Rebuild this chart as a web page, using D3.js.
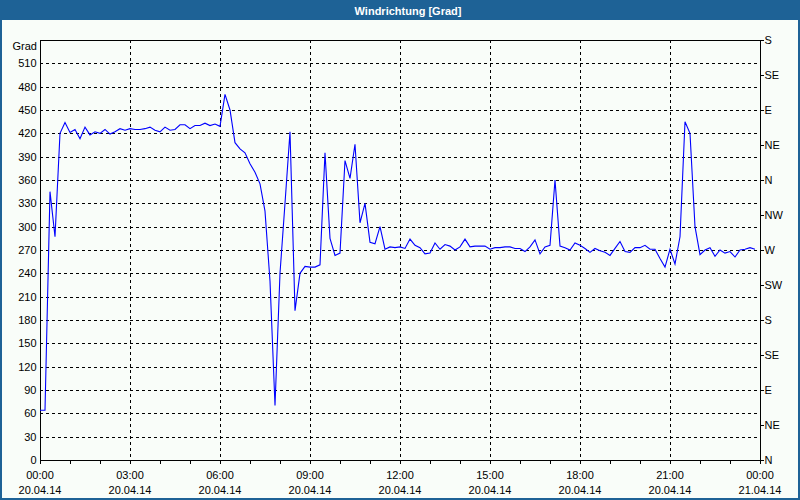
<!DOCTYPE html>
<html>
<head>
<meta charset="utf-8">
<script src="https://cdn.jsdelivr.net/npm/d3@7"></script>
<style>
  body { margin: 0; background: #ffffff; }
  text { font-family: "Liberation Sans", Arial, sans-serif; }
</style>
</head>
<body>
<svg width="800" height="500"></svg>
<script>
// wind direction, one reading every 10 minutes from 20.04.14 00:00
var startTime = new Date(2014, 3, 20, 0, 0);
var stepMinutes = 10;
var direction = [
  64, 64, 345, 287, 420, 434, 421, 425, 413, 428, 418, 422, 420, 425, 419, 422,
  426, 424, 426, 425, 425, 426, 428, 424, 422, 428, 424, 425, 431, 431, 426, 430,
  430, 433, 430, 432, 429, 470, 450, 408, 400, 395, 381, 370, 355, 320, 230, 70,
  240, 330, 422, 192, 240, 249, 248, 248, 251, 395, 285, 263, 266, 385, 362, 406,
  305, 330, 280, 278, 300, 271, 274, 273, 274, 272, 284, 276, 273, 265, 266, 279,
  271, 277, 275, 270, 274, 284, 274, 275, 275, 275, 271, 273, 273, 274, 274, 272,
  272, 268, 274, 283, 265, 274, 276, 360, 275, 273, 270, 279, 276, 272, 267, 272,
  269, 267, 263, 272, 281, 268, 267, 273, 273, 276, 271, 271, 259, 248, 271, 252,
  287, 435, 420, 300, 264, 270, 273, 262, 270, 266, 268, 261, 270, 271, 273, 271
];
var yTicks = [0, 30, 60, 90, 120, 150, 180, 210, 240, 270, 300, 330, 360, 390, 420, 450, 480, 510];
var compassValues = [0, 45, 90, 135, 180, 225, 270, 315, 360, 405, 450, 495, 540];
var compassLabels = ["N", "NE", "E", "SE", "S", "SW", "W", "NW", "N", "NE", "E", "SE", "S"];

var svg = d3.select("svg"),
    width = +svg.attr("width"),
    height = +svg.attr("height");
var pL = 40, pR = 760, pT = 40, pB = 460;

// frame + title bar
svg.append("rect").attr("x", 0).attr("y", 0).attr("width", width).attr("height", height)
   .attr("fill", "#f9fdf9");
svg.append("rect").attr("x", 0).attr("y", 0).attr("width", width).attr("height", 20)
   .attr("fill", "#1e6296");
svg.append("rect").attr("x", 1).attr("y", 1).attr("width", width - 2).attr("height", height - 2)
   .attr("fill", "none").attr("stroke", "#1e6296").attr("stroke-width", 2);
svg.append("text").attr("x", 408).attr("y", 14.5)
   .attr("text-anchor", "middle").attr("fill", "#ffffff")
   .style("font-size", "11px").style("font-weight", "bold")
   .text("Windrichtung [Grad]");

var points = direction.map(function(v, i) {
  return {t: d3.timeMinute.offset(startTime, i * stepMinutes), v: v};
});

// scales
var x = d3.scaleTime()
  .domain([startTime, d3.timeDay.offset(startTime, 1)])
  .range([pL, pR]);
var y = d3.scaleLinear().domain([0, 540]).range([pB, pT]);

// grid
var grid = svg.append("g").attr("stroke", "#000").attr("stroke-dasharray", "3,3")
  .attr("shape-rendering", "crispEdges");
grid.selectAll(".hg").data(yTicks.filter(function(d) { return d > 0; }))
  .enter().append("line")
  .attr("x1", pL).attr("x2", pR)
  .attr("y1", function(d) { return Math.round(y(d)) + 0.5; })
  .attr("y2", function(d) { return Math.round(y(d)) + 0.5; });
grid.selectAll(".vg").data(x.ticks(d3.timeHour.every(3)).slice(1, -1))
  .enter().append("line")
  .attr("y1", pT).attr("y2", pB)
  .attr("x1", function(d) { return Math.round(x(d)) + 0.5; })
  .attr("x2", function(d) { return Math.round(x(d)) + 0.5; });

// left axis
var fmtDay = d3.timeFormat("%d.%m.%y"), fmtHour = d3.timeFormat("%H:%M");
var yAxis = svg.append("g").attr("transform", "translate(" + (pL + 0.5) + ",0)")
  .call(d3.axisLeft(y).tickValues(yTicks).tickSize(0).tickPadding(4));
yAxis.select(".domain").remove();
yAxis.selectAll("text").style("font-size", "11px").style("font-family", "Liberation Sans").attr("fill", "#000");

svg.append("text").attr("x", 37).attr("y", 50).attr("text-anchor", "end")
   .style("font-size", "11px").text("Grad");

// right compass axis
var rAxis = svg.append("g").attr("transform", "translate(" + (pR + 0.5) + ",0)")
  .call(d3.axisRight(y).tickValues(compassValues).tickSize(3).tickPadding(1)
        .tickFormat(function(d, i) { return compassLabels[i]; }));
rAxis.select(".domain").remove();
rAxis.selectAll("text").style("font-size", "11px").style("font-family", "Liberation Sans").attr("fill", "#000");
rAxis.selectAll("line").attr("shape-rendering", "crispEdges");

// bottom axis
var xAxis = svg.append("g").attr("transform", "translate(0," + (pB + 0.5) + ")")
  .call(d3.axisBottom(x).ticks(d3.timeHour.every(1)).tickSize(3).tickFormat(""));
xAxis.select(".domain").remove();
xAxis.selectAll("line").attr("shape-rendering", "crispEdges");
var xl = svg.append("g").selectAll("text").data(x.ticks(d3.timeHour.every(3)))
  .enter().append("text")
  .attr("text-anchor", "middle")
  .style("font-size", "11px");
xl.append("tspan").attr("x", function(d) { return x(d); }).attr("y", 479)
  .text(function(d) { return fmtHour(d); });
xl.append("tspan").attr("x", function(d) { return x(d); }).attr("y", 494)
  .text(function(d) { return fmtDay(d); });

// plot frame
svg.append("rect").attr("x", pL + 0.5).attr("y", pT + 0.5)
  .attr("width", pR - pL).attr("height", pB - pT)
  .attr("fill", "none").attr("stroke", "#000").attr("shape-rendering", "crispEdges");

// data line
var line = d3.line()
  .x(function(d) { return x(d.t); })
  .y(function(d) { return y(d.v); });
svg.append("path").datum(points)
  .attr("d", line)
  .attr("fill", "none")
  .attr("stroke", "#0000ff")
  .attr("stroke-width", 1.1);
</script>
</body>
</html>
